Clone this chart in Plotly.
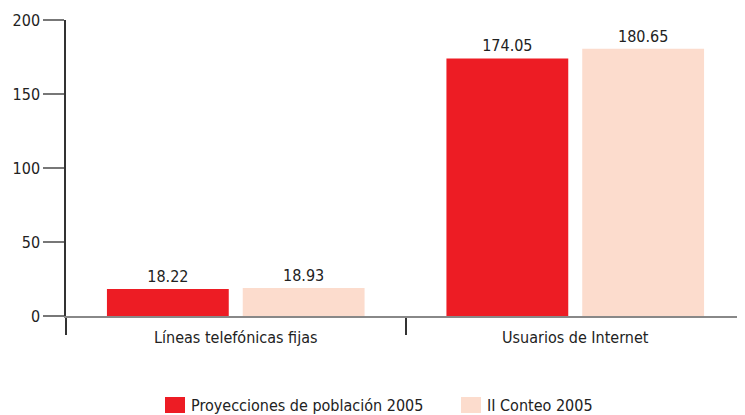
import plotly.graph_objects as go

categories = ["Líneas telefónicas fijas", "Usuarios de Internet"]
series_names = ["Proyecciones de población 2005", "II Conteo 2005"]
proyecciones = [18.22, 174.05]
conteo = [18.93, 180.65]
y_ticks = [0, 50, 100, 150, 200]

FONT = "DejaVu Sans Condensed, Roboto, sans-serif"
FS = 16
colors = ["#ED1C24", "#FCDCCD"]

fig = go.Figure()
for name, vals, col in zip(series_names, [proyecciones, conteo], colors):
    fig.add_trace(go.Bar(
        x=categories, y=vals, name=name, marker=dict(color=col, line=dict(width=0)),
        text=[f"{v:.2f}" for v in vals], textposition="outside",
        textfont=dict(family=FONT, size=FS, color="#222"), cliponaxis=False,
        showlegend=False,
    ))

# manual legend (bigger swatches, as in reference); page has 8px body margin
legend_x = [165, 461]
for name, col, lx in zip(series_names, colors, legend_x):
    fig.add_shape(type="rect", xref="paper", yref="paper",
                  x0=(lx - 66) / 679, x1=(lx + 20 - 66) / 679,
                  y0=-(413 - 316) / 296, y1=-(397 - 316) / 296,
                  fillcolor=col, line=dict(width=0))
    fig.add_annotation(text=name, xref="paper", yref="paper",
                       x=(lx + 24 - 66) / 679, y=-(405 - 316) / 296,
                       xanchor="left", yanchor="middle", showarrow=False,
                       font=dict(family=FONT, size=FS, color="#222"))

fig.update_layout(
    width=737, height=407,
    margin=dict(l=58, r=0, t=12, b=99, autoexpand=False),
    paper_bgcolor="white", plot_bgcolor="white",
    barmode="group", bargap=0.2, bargroupgap=0.103,
    font=dict(family=FONT, size=FS, color="#222"),
    showlegend=False,
    xaxis=dict(range=[-0.5, 1.5], showline=True, linecolor="#888", linewidth=1.5,
               ticks="outside", tickson="boundaries", ticklen=17, tickwidth=1.5,
               tickcolor="#333", showgrid=False, zeroline=False, fixedrange=True,
               automargin=False, ticklabelstandoff=6),
    yaxis=dict(range=[0, 200], tickvals=y_ticks, showline=True, linecolor="#333",
               linewidth=1.5, ticks="outside", ticklen=21, tickwidth=1.5, tickcolor="#777",
               showgrid=False, zeroline=False, fixedrange=True, automargin=False),
)

fig.write_html("out.html")
